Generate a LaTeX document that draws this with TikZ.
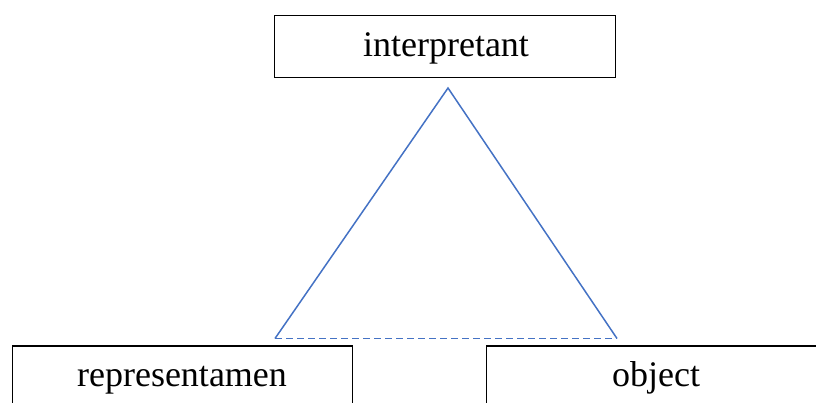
\documentclass[tikz,border=0pt]{standalone}
\usepackage{fontspec}
\setmainfont{Liberation Serif}
\definecolor{tri}{HTML}{4472C4}
\begin{document}
\begin{tikzpicture}[x=1pt,y=-1pt,
  labelbox/.style={draw=black,line width=1.5pt,inner sep=0pt},
  lbl/.style={font=\fontsize{36}{40}\selectfont,inner sep=0pt,anchor=base},
  side/.style={draw=tri,line width=1.5pt}]
\useasboundingbox (0,0) rectangle (816,402);
\draw[labelbox] (274.5,15.5) rectangle (615.5,77.5);
\node[lbl] (interp) at (446,56) {interpretant};
\draw[labelbox] (12.5,346) rectangle (352.5,410);
\node[lbl] (repr) at (182,386) {representamen};
\draw[labelbox] (486.5,346) rectangle (830,410);
\node[lbl] (obj) at (656,386) {object};
\coordinate (apex) at (448,88);
\coordinate (bl) at (275,338.5);
\coordinate (br) at (617,338.5);
\draw[side] (bl) -- (apex) -- (br);
\draw[side,dash pattern=on 7pt off 4pt] (bl) -- (br);
\end{tikzpicture}
\end{document}
